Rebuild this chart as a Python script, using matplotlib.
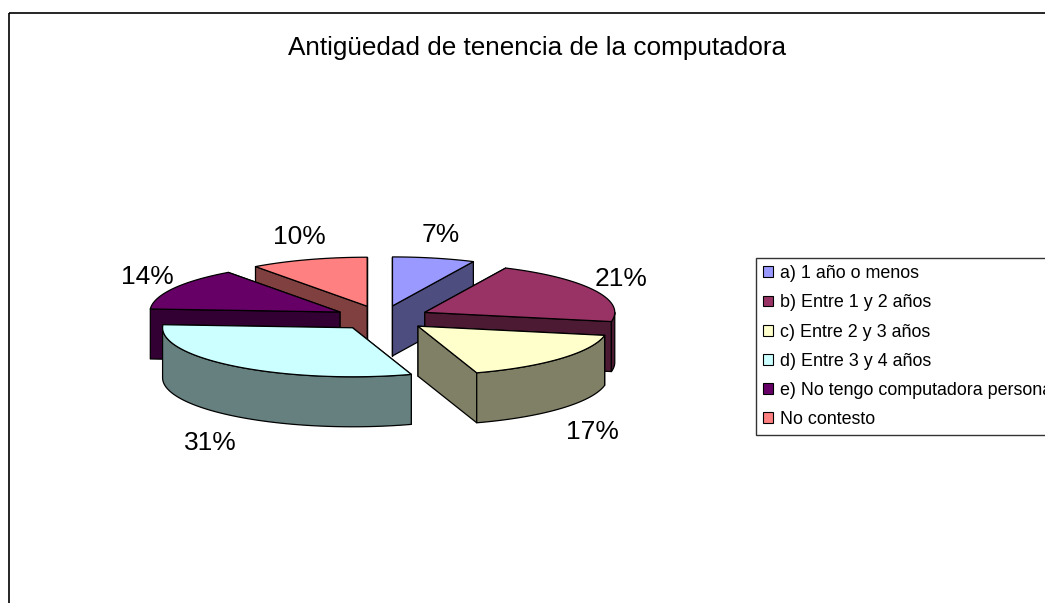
import numpy as np
import matplotlib
matplotlib.use("Agg")
import matplotlib.pyplot as plt
from matplotlib.patches import Polygon, Rectangle, Patch
from matplotlib.colors import to_rgb

plt.rcParams['font.family'] = ['Liberation Sans', 'DejaVu Sans']

# Data
categories = ['a) 1 año o menos', 'b) Entre 1 y 2 años', 'c) Entre 2 y 3 años',
              'd) Entre 3 y 4 años', 'e) No tengo computadora personal', 'No contesto']
values = [7, 21, 17, 31, 14, 10]
top_colors = ['#9999FF', '#993366', '#FFFFCC', '#CCFFFF', '#660066', '#FF8080']
title = 'Antigüedad de tenencia de la computadora'

# Pie geometry (pixel units, y downwards)
W, H = 1045, 603
cx, cy = 382, 318
rx, ry = 190, 49
depth = 50
explode = 48

fig = plt.figure(figsize=(W / 100, H / 100), dpi=100)
ax = fig.add_axes([0, 0, 1, 1])
ax.set_xlim(0, W)
ax.set_ylim(H, 0)
ax.axis('off')

# chart area border (runs off the right and bottom edges)
ax.add_patch(Rectangle((9, 13), W + 50, H + 50, fill=False, ec='black', lw=1.2))

ax.text(537, 48, title, ha='center', va='center', fontsize=18.8)


def darker(c, f=0.5):
    return tuple(v * f for v in to_rgb(c))


def edge(ox, oy, t):
    return ox + rx * np.sin(t), oy - ry * np.cos(t)


total = sum(values)
fracs = np.array(values) / total
bounds = np.concatenate([[0], np.cumsum(fracs)]) * 2 * np.pi

slices = []
for i, v in enumerate(values):
    t1, t2 = bounds[i], bounds[i + 1]
    tm = (t1 + t2) / 2
    ox = cx + explode * np.sin(tm)
    oy = cy - explode * (ry / rx) * np.cos(tm)
    slices.append((i, t1, t2, tm, ox, oy))

# back slices first
order = sorted(slices, key=lambda s: -np.cos(s[3]))
z = 2
for i, t1, t2, tm, ox, oy in order:
    top = top_colors[i]
    side = darker(top)
    kw = dict(ec='black', lw=0.9, joinstyle='round')
    # radial walls, back-facing first
    walls = []
    for t, facing in ((t1, np.sin(t1) < 0), (t2, np.sin(t2) > 0)):
        ex, ey = edge(ox, oy, t)
        poly = [(ox, oy), (ex, ey), (ex, ey + depth), (ox, oy + depth)]
        walls.append((facing, poly))
    walls.sort(key=lambda w: w[0])
    for facing, poly in walls:
        ax.add_patch(Polygon(poly, closed=True, fc=side, zorder=z, **kw))
        z += 1
    # outer wall on the front half
    lo, hi = max(t1, np.pi / 2), min(t2, 3 * np.pi / 2)
    if hi > lo:
        ts = np.linspace(lo, hi, 60)
        xs, ys = edge(ox, oy, ts)
        pts = list(zip(xs, ys)) + list(zip(xs[::-1], ys[::-1] + depth))
        ax.add_patch(Polygon(pts, closed=True, fc=side, zorder=z, **kw))
        z += 1
    # top face
    ts = np.linspace(t1, t2, 80)
    xs, ys = edge(ox, oy, ts)
    pts = [(ox, oy)] + list(zip(xs, ys))
    ax.add_patch(Polygon(pts, closed=True, fc=top, zorder=z, **kw))
    z += 1

# percentage labels
for i, t1, t2, tm, ox, oy in slices:
    s, c = np.sin(tm), np.cos(tm)
    lx = cx + (280 if c < 0 else 268) * s
    ly = cy - 85 * c + (58 if c < 0 else 0)
    ax.text(lx, ly, f'{values[i]}%', ha='center', va='center', fontsize=19, zorder=50)

# legend
handles = [Patch(fc=c, ec='black', lw=0.8) for c in top_colors]
leg = ax.legend(handles, categories, loc='upper left',
                bbox_to_anchor=(756 / W, 1 - 258 / H), bbox_transform=fig.transFigure,
                frameon=True, fancybox=False, fontsize=12.9, handlelength=0.55,
                handleheight=0.55, handletextpad=0.4, labelspacing=0.68,
                borderpad=0.4, borderaxespad=0)
leg.get_frame().set_edgecolor('black')
leg.get_frame().set_linewidth(1.0)

fig.savefig('out.png', dpi=100)
